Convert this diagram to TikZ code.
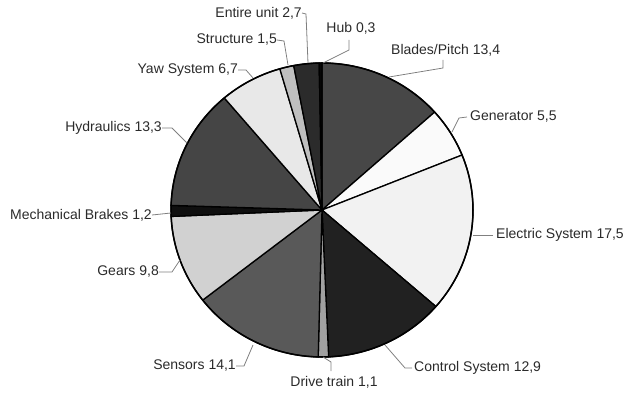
\documentclass[tikz,border=0pt]{standalone}
\usepackage{fontspec}
\setmainfont{Liberation Sans}
\usetikzlibrary{calc}
\definecolor{txt}{HTML}{2A2A2A}
\definecolor{lead}{HTML}{808080}
\begin{document}
\begin{tikzpicture}[x=1pt,y=-1pt,
  lbl/.style={font=\fontsize{14}{16}\selectfont, text=txt, inner sep=0pt},
  leader/.style={draw=lead, line width=0.8pt},
  slice/.style={draw=black, line width=1.3pt, line join=round}]
\useasboundingbox (0,0) rectangle (625,396);
\coordinate (c) at (322,210);
% slices (visual clockwise from top)
\foreach \a/\b/\col in {
  -90/-41.76/black!72,
  -41.76/-21.96/black!2,
  -21.96/41.04/black!5,
  41.04/87.48/black!87,
  87.48/91.44/black!37,
  91.44/142.2/black!65,
  142.2/177.48/black!18,
  177.48/181.8/black!94,
  181.8/229.68/black!73,
  229.68/253.8/black!9,
  253.8/259.2/black!25,
  259.2/268.92/black!83,
  268.92/270/black!97}{
  \filldraw[slice, fill=\col] (c) -- ($(c)+(\a:151 and 147)$)
    arc[start angle=\a, end angle=\b, x radius=151, y radius=147] -- cycle;
}
\draw[black, line width=1.5pt] (c) ellipse[x radius=151, y radius=147];
% labels
\node[lbl, anchor=east] (eu) at (302,13) {Entire unit 2,7};
\node[lbl] (hub) at (351,28) {Hub 0,3};
\node[lbl, anchor=east] (st) at (277,40) {Structure 1,5};
\node[lbl, anchor=east] (yaw) at (238,70) {Yaw System 6,7};
\node[lbl, anchor=west] (bl) at (391,50) {Blades/Pitch 13,4};
\node[lbl, anchor=west] (gen) at (470,117) {Generator 5,5};
\node[lbl, anchor=west] (el) at (496,235) {Electric System 17,5};
\node[lbl, anchor=west] (cs) at (414,368) {Control System 12,9};
\node[lbl] (dt) at (334,382) {Drive train 1,1};
\node[lbl, anchor=east] (se) at (236,366) {Sensors 14,1};
\node[lbl, anchor=east] (ge) at (159,272) {Gears 9,8};
\node[lbl, anchor=east] (mb) at (152,215) {Mechanical Brakes 1,2};
\node[lbl, anchor=east] (hy) at (162,128) {Hydraulics 13,3};
% pie edge points
\coordinate (peu) at (308,63);
\coordinate (phub) at (323,63);
\coordinate (pst) at (288,65);
\coordinate (pyaw) at (253,78);
\coordinate (pbl) at (389,77);
\coordinate (pgen) at (452,132);
\coordinate (pel) at (473,235);
\coordinate (pcs) at (385,345);
\coordinate (pdt) at (323,357);
\coordinate (pse) at (253,345);
\coordinate (pge) at (180,260);
\coordinate (pmb) at (171,213);
\coordinate (phy) at (187,143);
% leaders
\draw[leader] (eu.east) -- ++(4,1) -- (peu);
\draw[leader] (349,40) -- (349,50) -- (phub);
\draw[leader] (st.east) -- ++(7,1) -- (pst);
\draw[leader] (yaw.east) -- ++(8,0) -- (pyaw);
\draw[leader] ($(bl.west)+(52,10)$) -- ++(0,8) -- (pbl);
\draw[leader] ($(gen.west)+(-3,0)$) -- ++(-8,1) -- (pgen);
\draw[leader] ($(el.west)+(-3,0)$) -- (pel);
\draw[leader] ($(cs.west)+(-2,0)$) -- ++(-7,0) -- (pcs);
\draw[leader] (331,371) -- (331,362) -- (pdt);
\draw[leader] (se.east) -- ++(8,0) -- (pse);
\draw[leader] (ge.east) -- ++(13,0) -- (pge);
\draw[leader] (mb.east) -- (pmb);
\draw[leader] (hy.east) -- ++(10,0) -- (phy);
\end{tikzpicture}
\end{document}
